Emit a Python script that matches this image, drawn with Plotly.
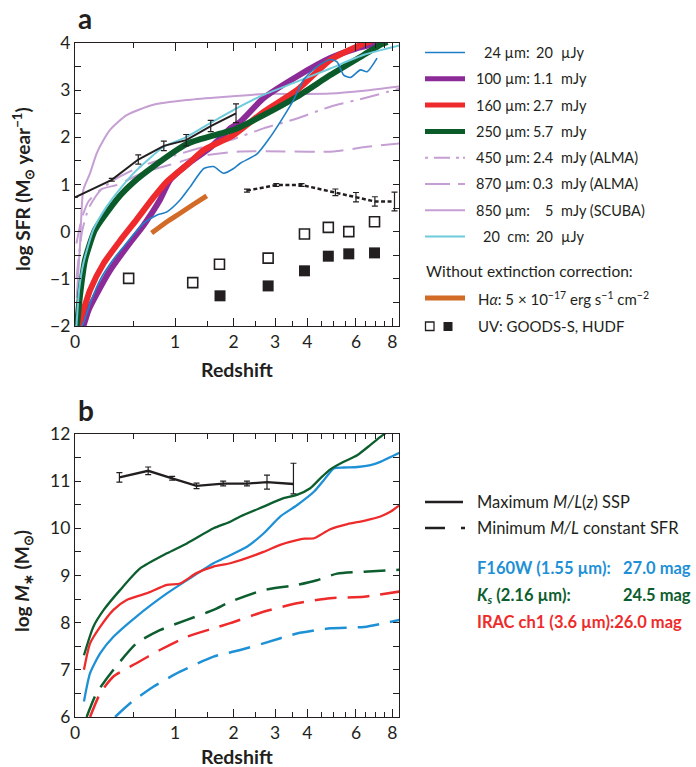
import numpy as np
import plotly.graph_objects as go

W, H = 696, 767
FONT = "Lato"
INK = "#231f20"

# ---------------- Panel a : log SFR vs redshift ----------------
z_24 = [0.047, 0.06, 0.11, 0.19, 0.30, 0.43, 0.61, 0.76, 0.89, 1.07, 1.22, 1.44, 1.61, 1.80, 2.0, 2.14,
        2.53, 2.87, 3.24, 3.54, 3.87, 4.34, 4.86, 5.14, 5.43, 5.74, 6.22, 6.56, 7.1]
sfr_24 = [-2.0, -1.94, -1.52, -1.02, -0.6, -0.24, 0.18, 0.35, 0.42, 0.67, 0.95, 1.34, 1.38, 1.24, 1.34, 1.45,
          1.65, 2.01, 2.44, 2.79, 3.22, 3.5, 3.65, 3.6, 3.32, 3.27, 3.43, 3.39, 3.68]

z_100 = [0.06, 0.10, 0.15, 0.275, 0.43, 0.62, 0.80, 0.93, 1.2, 1.55, 1.93, 2.14, 2.69, 3.65, 4.86, 6.0, 6.74, 7.2]
sfr_100 = [-2.0, -1.65, -1.38, -0.82, -0.33, 0.17, 0.67, 1.09, 1.45, 1.78, 2.19, 2.33, 2.83, 3.29, 3.68, 3.88, 3.96, 4.02]

z_160 = [0.023, 0.035, 0.11, 0.22, 0.37, 0.53, 0.72, 0.89, 1.2, 1.44, 2.0, 2.69, 3.65, 4.86, 6.4, 6.8]
sfr_160 = [-2.0, -1.9, -1.24, -0.67, -0.18, 0.25, 0.72, 1.06, 1.45, 1.73, 2.05, 2.54, 3.0, 3.64, 3.99, 4.05]

z_250 = [0.014, 0.023, 0.047, 0.072, 0.149, 0.275, 0.38, 0.5, 0.72, 1.17, 1.38, 1.73, 2.0, 2.69, 3.65, 4.86, 6.4, 7.29, 7.7]
sfr_250 = [-2.0, -1.7, -1.07, -0.6, 0.04, 0.5, 0.8, 1.05, 1.38, 1.86, 1.96, 2.08, 2.16, 2.47, 2.86, 3.32, 3.75, 3.96, 4.02]

z_450 = [0.01, 0.05, 0.1, 0.2, 0.35, 0.6, 1.0, 1.5, 1.93, 2.69, 3.65, 4.86, 6.4, 8.46]
sfr_450 = [-1.0, 0.0, 0.5, 0.9, 1.15, 1.4, 1.62, 1.82, 1.94, 2.19, 2.40, 2.65, 2.83, 3.03]

z_870 = [0.01, 0.05, 0.1, 0.2, 0.35, 0.6, 1.07, 1.32, 2.14, 3.24, 5.0, 6.56, 8.46]
sfr_870 = [-0.25, 0.3, 0.65, 0.9, 1.0, 1.25, 1.48, 1.59, 1.70, 1.70, 1.70, 1.80, 1.87]

z_850 = [0.012, 0.035, 0.059, 0.11, 0.162, 0.217, 0.275, 0.43, 0.72, 1.17, 1.73, 2.69, 3.65, 4.86, 6.4, 8.46]
sfr_850 = [-1.4, -0.3, 0.88, 1.24, 1.66, 1.94, 2.16, 2.47, 2.69, 2.79, 2.85, 2.92, 2.92, 2.93, 2.99, 3.08]

z_20cm = [0.01, 0.03, 0.06, 0.135, 0.245, 0.37, 0.53, 0.85, 1.17, 1.55, 2.07, 2.69, 3.65, 4.86, 6.4, 8.46]
sfr_20cm = [-2.0, -1.2, -0.67, 0.04, 0.53, 0.92, 1.3, 1.8, 2.01, 2.3, 2.62, 2.9, 3.18, 3.46, 3.75, 3.95]

z_ha = [0.7, 0.9, 1.07, 1.25, 1.49]
sfr_ha = [-0.03, 0.22, 0.39, 0.56, 0.76]

z_uv_open = [0.45, 1.26, 1.72, 2.81, 3.90, 4.78, 5.66, 6.96]
sfr_uv_open = [-0.99, -1.08, -0.69, -0.56, -0.05, 0.09, 0.0, 0.21]
z_uv_fill = [1.73, 2.81, 3.90, 4.78, 5.66, 6.96]
sfr_uv_fill = [-1.36, -1.15, -0.83, -0.52, -0.47, -0.45]

z_sfr_max = [0, 0.29, 0.55, 0.85, 1.16, 1.56, 2.05]
sfr_max = [0.73, 1.1, 1.53, 1.82, 1.94, 2.24, 2.51]
sfr_max_err = [float("nan"), 0.03, 0.1, 0.1, 0.12, 0.12, 0.2]

z_sfr_hi = [2.29, 3.03, 3.8, 5.07, 6.0, 6.98, 8.14]
sfr_hi = [0.87, 0.99, 0.99, 0.835, 0.73, 0.64, 0.64]
sfr_hi_err = [0.03, 0.03, 0.03, 0.07, 0.1, 0.1, 0.2]

# ---------------- Panel b : log M* vs redshift ----------------
z_mmax = [0.36, 0.66, 0.96, 1.32, 1.79, 2.29, 2.78, 3.54]
m_max = [11.08, 11.22, 11.06, 10.90, 10.95, 10.95, 10.98, 10.94]
m_max_eplus = [0.1, 0.08, 0.04, 0.06, 0.05, 0.05, 0.15, 0.44]
m_max_eminus = [0.1, 0.08, 0.04, 0.06, 0.05, 0.05, 0.15, 0.21]

z_ks = [0.064, 0.135, 0.22, 0.366, 0.57, 0.89, 1.17, 1.61, 1.93, 2.14, 2.69, 3.24, 3.65, 4.1, 4.47, 4.86,
        5.43, 6.06, 6.74, 7.29, 7.6]
m_ks = [7.31, 7.91, 8.27, 8.69, 9.15, 9.47, 9.68, 10.0, 10.14, 10.25, 10.46, 10.64, 10.71, 10.85, 11.06, 11.25,
        11.41, 11.55, 11.77, 11.94, 12.02]

z_f160 = [0.064, 0.11, 0.19, 0.305, 0.53, 0.89, 1.17, 1.61, 1.93, 2.29, 2.69, 3.14, 3.65, 4.24, 4.6, 5.0,
          5.43, 6.06, 6.74, 7.29, 8.46]
m_f160 = [6.33, 6.93, 7.35, 7.70, 8.13, 8.62, 8.90, 9.26, 9.43, 9.61, 9.89, 10.25, 10.49, 10.78, 11.02, 11.27,
          11.29, 11.30, 11.34, 11.41, 11.6]

z_irac = [0.064, 0.11, 0.19, 0.305, 0.43, 0.64, 0.89, 1.07, 1.32, 1.61, 1.93, 2.69, 3.14, 3.65, 3.9, 4.24,
          4.47, 4.86, 5.6, 6.4, 7.29, 7.88, 8.46]
m_irac = [7.0, 7.56, 7.91, 8.27, 8.48, 8.62, 8.80, 8.83, 9.05, 9.19, 9.26, 9.5, 9.65, 9.75, 9.78, 9.79,
          9.86, 9.98, 10.09, 10.16, 10.25, 10.35, 10.49]

z_ks_min = [0.084, 0.16, 0.305, 0.53, 0.80, 1.17, 1.61, 1.93, 2.69, 3.65, 4.34, 5.14, 6.4, 8.46]
m_ks_min = [6.0, 6.5, 7.0, 7.56, 7.84, 8.06, 8.27, 8.44, 8.69, 8.8, 8.9, 9.04, 9.08, 9.12]

z_irac_min = [0.11, 0.19, 0.305, 0.53, 0.80, 1.17, 1.61, 1.93, 2.69, 3.65, 4.86, 6.4, 8.46]
m_irac_min = [6.0, 6.5, 6.86, 7.14, 7.42, 7.70, 7.88, 7.99, 8.23, 8.41, 8.52, 8.55, 8.66]

z_f160_min = [0.32, 0.465, 0.72, 1.07, 1.61, 2.14, 2.69, 3.65, 4.86, 6.4, 8.46]
m_f160_min = [6.0, 6.29, 6.64, 6.96, 7.28, 7.42, 7.56, 7.77, 7.88, 7.91, 8.06]

# axis ticks
z_labeled = [0, 1, 2, 3, 4, 6, 8]
z_labels = ["0", "1", "2", "3", "4", "6", "8"]
z_minor = [0.5, 1.5, 2.5, 3.5, 4.5, 5, 5.5, 6.5, 7, 7.5]
sfr_ticks = [-2, -1, 0, 1, 2, 3, 4]
sfr_labels = ["\u22122", "\u22121", "0", "1", "2", "3", "4"]
m_ticks = [6, 7, 8, 9, 10, 11, 12]

# colours
C24, C100, C160, C250 = "#1f7fc6", "#8c2b97", "#ef2a2c", "#0b5a2a"
CLP, CCY, CHA = "#c59fd3", "#6fcbdc", "#d26b27"
CB, CG, CR = "#1e90d6", "#0d5e2e", "#ee2b2b"


def zx(z):
    return np.asarray(z, dtype=float) + 1.0


fig = go.Figure()


def line(z, v, color, width, dash="solid", xa="x", ya="y", shape="spline"):
    fig.add_trace(go.Scatter(x=zx(z), y=v, mode="lines", xaxis=xa, yaxis=ya,
                             line=dict(color=color, width=width, dash=dash, shape=shape, smoothing=0.6),
                             showlegend=False, hoverinfo="skip"))


# panel a
line(z_850, sfr_850, CLP, 2)
line(z_870, sfr_870, CLP, 2, "20px,9px")
line(z_450, sfr_450, CLP, 2, "20px,7px,3px,7px")
line(z_100, sfr_100, C100, 6)
line(z_160, sfr_160, C160, 6)
line(z_250, sfr_250, C250, 6)
line(z_20cm, sfr_20cm, CCY, 2)
line(z_24, sfr_24, C24, 1.6)
line(z_ha, sfr_ha, CHA, 5)

fig.add_trace(go.Scatter(x=zx(z_sfr_max), y=sfr_max, mode="lines", xaxis="x", yaxis="y",
                         line=dict(color=INK, width=2),
                         error_y=dict(type="data", array=sfr_max_err, color=INK, thickness=1.2, width=3),
                         showlegend=False, hoverinfo="skip"))
fig.add_trace(go.Scatter(x=zx(z_sfr_hi), y=sfr_hi, mode="lines", xaxis="x", yaxis="y",
                         line=dict(color=INK, width=2.5, dash="4px,2.5px"),
                         error_y=dict(type="data", array=sfr_hi_err, color=INK, thickness=1.2, width=3),
                         showlegend=False, hoverinfo="skip"))
fig.add_trace(go.Scatter(x=zx(z_uv_open), y=sfr_uv_open, mode="markers", xaxis="x", yaxis="y",
                         marker=dict(symbol="square-open", size=10, color=INK, line=dict(width=1.6)),
                         showlegend=False, hoverinfo="skip"))
fig.add_trace(go.Scatter(x=zx(z_uv_fill), y=sfr_uv_fill, mode="markers", xaxis="x", yaxis="y",
                         marker=dict(symbol="square", size=11, color=INK),
                         showlegend=False, hoverinfo="skip"))

# panel b
line(z_ks_min, m_ks_min, CG, 2.5, "22px,11px", "x2", "y2")
line(z_irac_min, m_irac_min, CR, 2.5, "22px,11px", "x2", "y2")
line(z_f160_min, m_f160_min, CB, 2.5, "22px,11px", "x2", "y2")
line(z_f160, m_f160, CB, 2.3, xa="x2", ya="y2")
line(z_irac, m_irac, CR, 2.3, xa="x2", ya="y2")
line(z_ks, m_ks, CG, 2.3, xa="x2", ya="y2")
fig.add_trace(go.Scatter(x=zx(z_mmax), y=m_max, mode="lines", xaxis="x2", yaxis="y2",
                         line=dict(color=INK, width=2.3),
                         error_y=dict(type="data", symmetric=False, array=m_max_eplus, arrayminus=m_max_eminus,
                                      color=INK, thickness=1.2, width=3),
                         showlegend=False, hoverinfo="skip"))

# ---------------- layout ----------------
XD = [75 / W, 399 / W]
YD_A = [1 - 326 / H, 1 - 43 / H]
YD_B = [1 - 717 / H, 1 - 434 / H]
xrange_log = [0, float(np.log10(9.43))]

common = dict(showline=True, linecolor=INK, linewidth=1.3, mirror="ticks", ticks="inside",
              tickcolor=INK, tickwidth=1.2, showgrid=False, zeroline=False, automargin=False,
              tickfont=dict(family=FONT, size=17.5, color=INK))
xcommon = dict(common, type="log", range=xrange_log, tickmode="array",
               tickvals=list(zx(z_labeled)), ticktext=z_labels, ticklen=8,
               minor=dict(tickmode="array", tickvals=list(zx(z_minor)), ticklen=5, ticks="inside",
                          tickcolor=INK, tickwidth=1.2, showgrid=False))

fig.update_layout(
    width=W, height=H, margin=dict(l=0, r=0, t=0, b=0, pad=0),
    paper_bgcolor="white", plot_bgcolor="white",
    font=dict(family=FONT, color=INK),
    xaxis=dict(xcommon, domain=XD, anchor="y"),
    yaxis=dict(common, domain=YD_A, anchor="x", range=[-2, 4], tickmode="array", tickvals=sfr_ticks,
               ticktext=sfr_labels, ticklen=6,
               minor=dict(dtick=0.5, ticklen=6, ticks="inside", tickcolor=INK, tickwidth=1.2, showgrid=False)),
    xaxis2=dict(xcommon, domain=XD, anchor="y2"),
    yaxis2=dict(common, domain=YD_B, anchor="x2", range=[6, 12], tickmode="array", tickvals=m_ticks,
                ticklen=6,
                minor=dict(dtick=0.5, ticklen=6, ticks="inside", tickcolor=INK, tickwidth=1.2, showgrid=False)),
)

annotations = []
shapes = []


def ann(text, x, y, xanchor="left", size=14, color=INK, angle=0, yanchor="middle"):
    annotations.append(dict(text=text, x=x / W, y=1 - y / H, xref="paper", yref="paper",
                            xanchor=xanchor, yanchor=yanchor, showarrow=False, textangle=angle,
                            font=dict(family=FONT, size=size, color=color)))


def seg(x0, x1, y, color, width, dash="solid"):
    shapes.append(dict(type="line", xref="paper", yref="paper", x0=x0 / W, x1=x1 / W,
                       y0=1 - y / H, y1=1 - y / H, line=dict(color=color, width=width, dash=dash)))


# panel letters and axis titles
ann("<b>a</b>", 76, 18, size=28)
ann("<b>b</b>", 76, 410, size=28)
ann("<b>Redshift</b>", 237, 369, xanchor="center", size=19.5)
ann("<b>Redshift</b>", 237, 756, xanchor="center", size=19.5)
ann("<b>log SFR (M<sub>\u2299</sub> year<sup>\u22121</sup>)</b>", 23, 189, xanchor="center", size=19, angle=-90)
ann("<b>log <i>M</i><sub>\u2217</sub> (M<sub>\u2299</sub>)</b>", 23, 581, xanchor="center", size=19, angle=-90)

# legend panel a
leg_rows = [("24 \u00b5m:", "20", "\u00b5Jy", C24, 1.6, "solid"),
            ("100 \u00b5m:", "1.1", "mJy", C100, 5, "solid"),
            ("160 \u00b5m:", "2.7", "mJy", C160, 5, "solid"),
            ("250 \u00b5m:", "5.7", "mJy", C250, 5, "solid"),
            ("450 \u00b5m:", "2.4", "mJy (ALMA)", CLP, 2, "3px,6px,16px,6px,3px,4px,3px"),
            ("870 \u00b5m:", "0.3", "mJy (ALMA)", CLP, 2, "25px,8px,7px"),
            ("850 \u00b5m:", "5", "mJy (SCUBA)", CLP, 2, "solid"),
            ("20\u00a0\u00a0cm:", "20", "\u00b5Jy", CCY, 2, "solid")]
for i, (lab, num, unit, col, wd, ds) in enumerate(leg_rows):
    yy = 52.5 + 26.3 * i
    seg(425, 465, yy, col, wd, ds)
    ann(lab, 532, yy, xanchor="right", size=14.5)
    ann(num, 555, yy, xanchor="right", size=14.5)
    ann(unit, 559, yy, size=14.5)

ann("Without extinction correction:", 424, 271, size=15.5)
seg(425, 465, 298, CHA, 5)
ann("H<i>\u03b1</i>: 5 \u00d7 10<sup>\u221217</sup> erg s<sup>\u22121</sup> cm<sup>\u22122</sup>", 476, 298, size=15)
shapes.append(dict(type="rect", xref="paper", yref="paper", x0=425.5 / W, x1=434 / W,
                   y0=1 - 330.5 / H, y1=1 - 322 / H, line=dict(color=INK, width=1.3)))
shapes.append(dict(type="rect", xref="paper", yref="paper", x0=443.5 / W, x1=452.5 / W,
                   y0=1 - 331 / H, y1=1 - 322 / H, line=dict(color=INK, width=0), fillcolor=INK))
ann("UV: GOODS-S, HUDF", 476, 326, size=15)

# legend panel b
seg(425, 463, 502, INK, 2.5)
ann("Maximum <i>M/L</i>(<i>z</i>) SSP", 475, 502, size=16.5)
seg(425, 465, 528, INK, 2.5, "20px,16px,4px")
ann("Minimum <i>M/L</i> constant SFR", 475, 528, size=16.5)
ann("<b>F160W (1.55 \u00b5m):</b>", 475, 568, color=CB, size=16.5)
ann("<b>27.0 mag</b>", 621, 568, color=CB, size=16.5)
ann("<b><i>K<sub>s</sub></i> (2.16 \u00b5m):</b>", 475, 595, color=CG, size=16.5)
ann("<b>24.5 mag</b>", 621, 595, color=CG, size=16.5)
ann("<b>IRAC ch1 (3.6 \u00b5m):26.0 mag</b>", 475, 622, color=CR, size=16.5)

fig.update_layout(annotations=annotations, shapes=shapes)
fig.write_html("out.html", config={"displayModeBar": False},
               post_script="document.body.style.margin='0';document.body.style.padding='0';"
                           "document.body.style.overflow='hidden';")
